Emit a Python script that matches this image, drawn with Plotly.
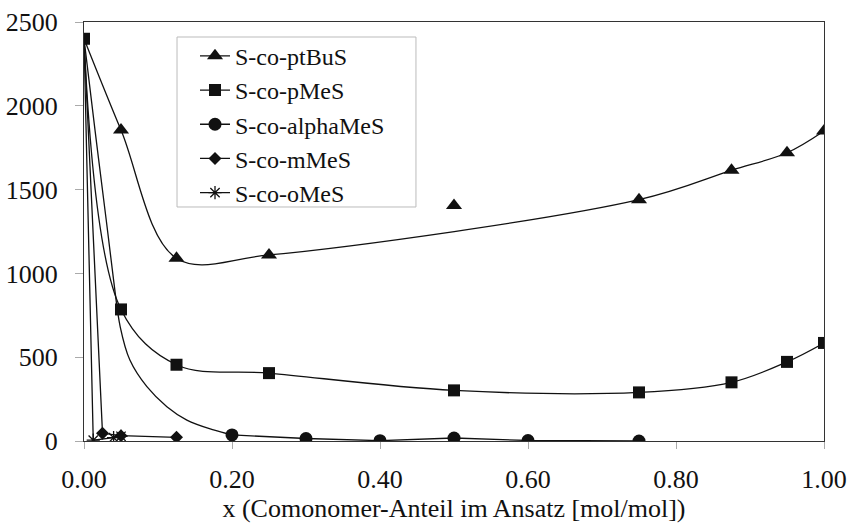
import plotly.graph_objects as go

# ---- data ----
ptbus_x = [0.0, 0.05, 0.125, 0.25, 0.5, 0.75, 0.875, 0.95, 1.0]
ptbus_y = [2400, 1855, 1090, 1110, 1405, 1440, 1615, 1720, 1850]
ptbus_off_curve = [0.5]          # point not on the smoothed curve

pmes_x = [0.0, 0.05, 0.125, 0.25, 0.5, 0.75, 0.875, 0.95, 1.0]
pmes_y = [2400, 785, 455, 405, 302, 290, 350, 472, 585]

alpha_x = [0.2, 0.3, 0.4, 0.5, 0.6, 0.75]
alpha_y = [36, 15, 2, 18, 3, 0]
alpha_curve_x = [0.0, 0.015, 0.03, 0.04, 0.049, 0.062, 0.085, 0.112, 0.139, 0.175, 0.2]
alpha_curve_y = [2400, 1850, 1320, 960, 680, 483, 324, 205, 125, 66, 36]

mmes_x = [0.0, 0.025, 0.05, 0.125]
mmes_y = [2400, 46, 32, 22]

omes_x = [0.0, 0.0125, 0.04, 0.05]
omes_y = [2400, 5, 20, 28]

x_ticks = [0.0, 0.2, 0.4, 0.6, 0.8, 1.0]
y_ticks = [0, 500, 1000, 1500, 2000, 2500]

FONT = "Liberation Serif"
INK = "#111111"
LW = 1.3

def visible_idx(xs):
    # the shared start point (x=0) is only shown by the pMeS square
    return [i for i, x in enumerate(xs) if x != 0]

HIDE = dict(marker=dict(opacity=0))
SHOW = dict(marker=dict(opacity=1))

fig = go.Figure()

# smoothed curve for alpha-methylstyrene (no markers)
fig.add_trace(go.Scatter(x=alpha_curve_x, y=alpha_curve_y, mode="lines",
                         line=dict(color=INK, width=LW, shape="spline", smoothing=1),
                         showlegend=False, hoverinfo="skip"))

# ptBuS
on_x = [x for x in ptbus_x if x not in ptbus_off_curve]
on_y = [y for x, y in zip(ptbus_x, ptbus_y) if x not in ptbus_off_curve]
off_x = [x for x in ptbus_x if x in ptbus_off_curve]
off_y = [y for x, y in zip(ptbus_x, ptbus_y) if x in ptbus_off_curve]
fig.add_trace(go.Scatter(x=on_x, y=on_y, mode="lines+markers", name="S-co-ptBuS",
                         legendrank=1,
                         line=dict(color=INK, width=LW, shape="spline", smoothing=1),
                         marker=dict(symbol="triangle-up", size=14, color=INK),
                         selectedpoints=visible_idx(on_x), selected=SHOW, unselected=HIDE))
fig.add_trace(go.Scatter(x=off_x, y=off_y, mode="markers", showlegend=False,
                         marker=dict(symbol="triangle-up", size=14, color=INK)))

# alphaMeS
fig.add_trace(go.Scatter(x=alpha_x, y=alpha_y, mode="lines+markers", name="S-co-alphaMeS",
                         legendrank=3,
                         line=dict(color=INK, width=LW),
                         marker=dict(symbol="circle", size=13, color=INK)))

# mMeS
fig.add_trace(go.Scatter(x=mmes_x, y=mmes_y, mode="lines+markers", name="S-co-mMeS",
                         legendrank=4,
                         line=dict(color=INK, width=LW),
                         marker=dict(symbol="diamond", size=10, color=INK),
                         selectedpoints=visible_idx(mmes_x), selected=SHOW, unselected=HIDE))

# oMeS
fig.add_trace(go.Scatter(x=omes_x, y=omes_y, mode="lines+markers", name="S-co-oMeS",
                         legendrank=5,
                         line=dict(color=INK, width=LW),
                         marker=dict(symbol="asterisk-open", size=11, color=INK,
                                     line=dict(color=INK, width=1.3)),
                         selectedpoints=visible_idx(omes_x), selected=SHOW, unselected=HIDE))

# pMeS (drawn last so its square sits on top at x=0)
fig.add_trace(go.Scatter(x=pmes_x, y=pmes_y, mode="lines+markers", name="S-co-pMeS",
                         legendrank=2,
                         line=dict(color=INK, width=LW, shape="spline", smoothing=1),
                         marker=dict(symbol="square", size=12, color=INK)))

# legend frame
fig.add_shape(type="rect", xref="paper", yref="paper",
              x0=0.1257, x1=0.4486, y0=0.5585, y1=0.9642,
              line=dict(color="#bbbbbb", width=1), fillcolor="rgba(0,0,0,0)",
              layer="above")

fig.update_layout(
    template="none",
    width=848, height=526,
    margin=dict(l=84, r=24, t=22, b=85),
    paper_bgcolor="white", plot_bgcolor="white",
    font=dict(family=FONT, size=26, color=INK),
    showlegend=True,
    legend=dict(x=0.150, y=0.972, xanchor="left", yanchor="top",
                bgcolor="rgba(0,0,0,0)", borderwidth=0,
                font=dict(family=FONT, size=24, color=INK),
                tracegroupgap=0, itemwidth=30),
)
fig.update_xaxes(range=[0, 1.0], tickvals=x_ticks, tickformat=".2f",
                 tickfont=dict(family=FONT, size=26, color=INK),
                 showgrid=False, zeroline=False, automargin=False,
                 showline=True, linecolor="#333333", linewidth=1.3, mirror=True,
                 ticks="outside", ticklen=7, tickcolor="#aaaaaa", tickwidth=1,
                 ticklabelstandoff=8,
                 title=dict(text="x (Comonomer-Anteil im Ansatz [mol/mol])",
                            font=dict(family=FONT, size=26, color=INK), standoff=4))
fig.update_yaxes(range=[0, 2500], tickvals=y_ticks,
                 tickfont=dict(family=FONT, size=26, color=INK),
                 showgrid=False, zeroline=False, automargin=False,
                 showline=True, linecolor="#333333", linewidth=1.3, mirror=True,
                 ticks="outside", ticklen=8, tickcolor="#aaaaaa", tickwidth=1,
                 ticklabelstandoff=12)

fig.write_html("out.html")
